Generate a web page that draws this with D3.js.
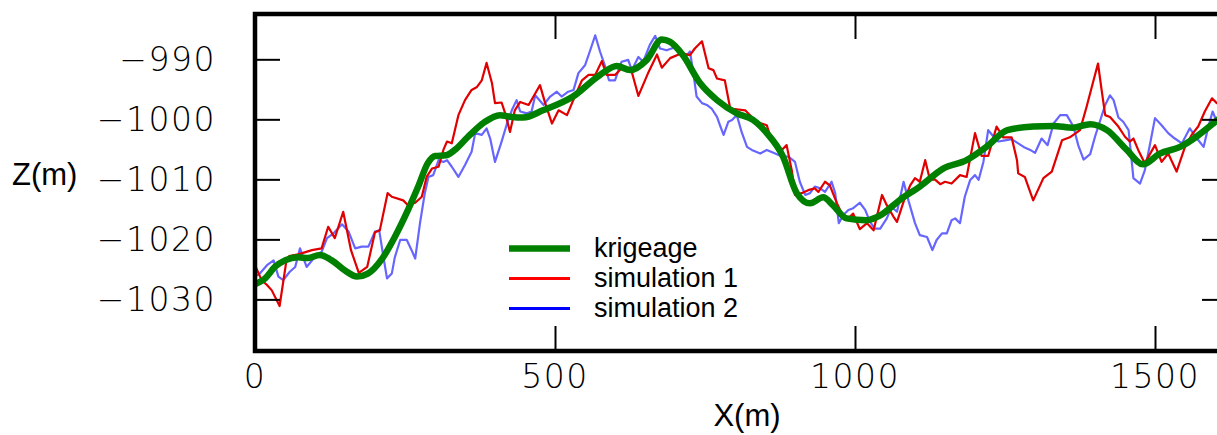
<!DOCTYPE html>
<html>
<head>
<meta charset="utf-8">
<script src="https://cdn.jsdelivr.net/npm/d3@7"></script>
<style>
  body { margin: 0; background: #fff; }
  svg { display: block; }
  .tick-label { font-family: "DejaVu Sans", sans-serif; font-weight: 200; font-size: 33px; letter-spacing: 1.5px; fill: #000; }
  .axis-title { font-family: "Liberation Sans", Arial, sans-serif; font-size: 31px; fill: #000; }
  .legend-text { font-family: "Liberation Sans", Arial, sans-serif; font-size: 27px; fill: #000; }
</style>
</head>
<body>
<script>
// profile data, X(m) and Z(m)
let krigeage = [[0,-1027.5],[17,-1026.5],[33,-1024.6],[50,-1023.5],[72,-1023.0],[88,-1023.1],[108,-1022.6],[128,-1023.5],
  [150,-1025.2],[170,-1026.2],[188,-1025.7],[212,-1023.2],[233,-1019.6],[255,-1015.1],[272,-1011.2],[288,-1007.3],
  [300,-1006.1],[318,-1006.0],[333,-1005.1],[355,-1002.9],[382,-1000.5],[408,-999.3],[428,-999.6],[447,-999.7],
  [480,-998.5],[530,-996.2],[575,-992.6],[603,-991.1],[625,-991.8],[653,-990.1],[678,-986.7],[692,-987.1],
  [713,-989.3],[742,-994.0],[770,-996.8],[803,-999.0],[830,-1000.1],[853,-1002.3],[880,-1006.2],[903,-1012.3],
  [925,-1014.0],[947,-1013.0],[963,-1014.3],[986,-1016.5],[1019,-1016.8],[1042,-1016.0],[1075,-1013.4],[1108,-1011.2],
  [1147,-1008.2],[1186,-1006.8],[1219,-1004.6],[1254,-1001.8],[1297,-1001.2],[1330,-1001.1],[1363,-1001.4],[1392,-1000.8],
  [1420,-1001.8],[1453,-1005.1],[1480,-1007.5],[1508,-1005.7],[1542,-1004.6],[1569,-1002.9],[1603,-1000.2],[1620,-998.8]];

let simulation1 = [[0,-1024.3],[11,-1026.8],[20,-1027.6],[28,-1028.5],[41,-1031.1],[52,-1023.8],[57,-1022.8],[72,-1022.5],
  [95,-1021.8],[111,-1021.5],[122,-1017.9],[133,-1019.8],[147,-1015.4],[160,-1021.8],[173,-1025.6],[187,-1024.6],
  [200,-1018.8],[208,-1018.5],[221,-1012.3],[228,-1012.9],[247,-1013.5],[255,-1014.3],[267,-1013.9],[278,-1012.9],
  [286,-1009.6],[295,-1008.2],[306,-1007.9],[314,-1005.1],[320,-1003.7],[328,-1004.0],[339,-999.3],[350,-996.8],
  [361,-995.1],[370,-994.6],[378,-993.5],[386,-990.6],[395,-994.0],[400,-997.3],[411,-997.2],[417,-999.0],
  [425,-1002.1],[433,-998.5],[442,-997.1],[456,-997.6],[467,-995.7],[475,-994.3],[483,-997.1],[495,-1000.7],
  [506,-998.5],[520,-999.3],[533,-996.2],[545,-993.5],[556,-992.6],[567,-992.6],[578,-990.3],[586,-992.6],
  [600,-992.6],[611,-991.5],[628,-992.1],[639,-996.1],[656,-992.1],[670,-989.2],[678,-991.4],[692,-989.8],
  [711,-989.0],[725,-989.3],[733,-988.2],[745,-987.0],[756,-991.5],[764,-991.8],[770,-993.2],[783,-993.5],
  [792,-998.2],[817,-998.5],[828,-999.6],[836,-1000.4],[853,-1001.0],[858,-1002.6],[867,-1003.7],[878,-1005.1],
  [886,-1004.3],[895,-1008.7],[900,-1012.6],[911,-1012.3],[922,-1011.8],[933,-1011.5],[939,-1012.1],[950,-1010.4],
  [958,-1011.0],[970,-1014.0],[978,-1015.7],[989,-1016.5],[997,-1015.7],[1008,-1018.3],[1020,-1017.3],[1031,-1018.5],
  [1045,-1012.6],[1053,-1014.3],[1064,-1016.2],[1070,-1017.1],[1081,-1013.7],[1092,-1011.0],[1100,-1009.8],[1108,-1010.4],
  [1117,-1006.8],[1125,-1010.1],[1133,-1010.0],[1142,-1010.8],[1150,-1010.4],[1161,-1010.7],[1175,-1009.3],[1186,-1009.6],
  [1200,-1002.3],[1211,-1006.1],[1222,-1006.1],[1236,-1001.2],[1247,-1003.0],[1261,-1003.0],[1270,-1006.8],[1272,-1009.0],
  [1283,-1009.6],[1297,-1013.5],[1314,-1009.8],[1328,-1008.7],[1345,-1003.5],[1358,-1003.0],[1375,-1001.8],[1386,-997.9],
  [1405,-990.7],[1411,-995.1],[1417,-999.3],[1425,-999.6],[1439,-1001.2],[1450,-1002.9],[1458,-1003.7],[1464,-1003.2],
  [1472,-1005.1],[1483,-1007.3],[1500,-1004.3],[1511,-1007.1],[1522,-1005.7],[1536,-1008.7],[1550,-1004.6],[1561,-1002.6],
  [1572,-1001.2],[1583,-998.7],[1595,-996.5],[1603,-997.3],[1622,-997.8]];

let simulation2 = [[0,-1026.2],[8,-1025.7],[20,-1024.3],[31,-1023.5],[39,-1026.2],[47,-1026.8],[58,-1025.4],[67,-1024.6],
  [75,-1021.5],[86,-1024.6],[100,-1022.9],[111,-1022.1],[120,-1019.8],[131,-1019.0],[145,-1017.5],[156,-1018.7],
  [167,-1021.5],[178,-1021.2],[189,-1021.2],[200,-1018.7],[207,-1018.5],[214,-1022.9],[220,-1026.5],[228,-1025.7],
  [233,-1023.0],[242,-1020.1],[253,-1020.1],[261,-1021.8],[267,-1023.2],[275,-1017.3],[283,-1012.3],[289,-1009.6],
  [297,-1009.3],[306,-1006.8],[314,-1007.1],[320,-1006.8],[328,-1007.9],[339,-1009.6],[350,-1007.6],[361,-1005.4],
  [367,-1002.3],[378,-1002.6],[386,-1001.5],[392,-1003.2],[400,-1007.1],[411,-1003.7],[420,-1000.7],[428,-998.5],
  [436,-996.8],[442,-998.7],[453,-999.0],[461,-998.7],[467,-996.0],[481,-997.6],[492,-996.2],[503,-995.4],
  [511,-996.2],[522,-995.4],[531,-995.1],[539,-992.3],[550,-991.0],[558,-988.7],[567,-986.0],[575,-988.7],
  [583,-991.0],[590,-993.5],[600,-993.5],[611,-990.4],[622,-990.1],[628,-991.8],[639,-989.6],[647,-990.4],
  [658,-987.6],[667,-986.1],[675,-988.2],[686,-988.5],[700,-988.0],[711,-989.0],[720,-989.3],[725,-988.7],
  [731,-992.6],[736,-996.2],[745,-997.3],[753,-997.6],[761,-998.2],[770,-999.6],[775,-1001.0],[781,-1002.6],
  [789,-1000.4],[795,-1000.1],[803,-999.3],[811,-1002.1],[820,-1004.6],[828,-1005.1],[842,-1005.7],[853,-1005.1],
  [867,-1005.7],[878,-1006.2],[889,-1006.2],[900,-1007.1],[908,-1010.4],[917,-1012.6],[925,-1012.3],[933,-1011.2],
  [942,-1011.5],[950,-1012.1],[961,-1010.4],[967,-1012.3],[973,-1017.3],[981,-1015.9],[989,-1015.1],[997,-1014.8],
  [1008,-1013.9],[1017,-1015.1],[1025,-1017.1],[1033,-1018.2],[1042,-1018.2],[1053,-1016.5],[1061,-1014.6],[1070,-1015.4],
  [1081,-1010.4],[1089,-1013.5],[1100,-1017.3],[1108,-1019.3],[1120,-1019.6],[1129,-1021.8],[1136,-1020.1],[1145,-1019.0],
  [1153,-1019.0],[1161,-1016.8],[1167,-1016.5],[1175,-1017.3],[1183,-1012.9],[1192,-1010.1],[1200,-1009.3],[1206,-1010.1],
  [1214,-1007.1],[1222,-1001.8],[1231,-1002.9],[1239,-1003.7],[1250,-1003.5],[1261,-1003.3],[1272,-1004.0],[1281,-1004.6],
  [1292,-1005.1],[1300,-1005.6],[1311,-1003.2],[1321,-1004.3],[1331,-1000.7],[1342,-999.3],[1353,-999.3],[1364,-1001.2],
  [1372,-1004.3],[1381,-1006.7],[1392,-1005.8],[1400,-1002.9],[1408,-1000.4],[1417,-997.6],[1425,-996.0],[1431,-996.8],
  [1439,-999.7],[1447,-1000.4],[1456,-1001.8],[1464,-1009.8],[1475,-1010.7],[1483,-1008.5],[1492,-1004.0],[1500,-999.8],
  [1511,-1001.0],[1522,-1002.3],[1533,-1003.2],[1545,-1004.0],[1558,-1001.5],[1570,-1003.2],[1581,-1004.6],[1589,-1001.2],
  [1596,-998.7],[1603,-1000.4],[1622,-999.8]];

let xTicks = [0, 500, 1000, 1500];
let zTicks = [-990, -1000, -1010, -1020, -1030];

let legendNames = ["krigeage", "simulation 1", "simulation 2"];

let width = 1217,
  height = 435;

// plot frame, right edge runs past the window like in the figure
let plotLeft = 255, plotRight = 1227, plotTop = 14, plotBottom = 351;

let svg = d3.select("body").append("svg")
  .attr("width", width)
  .attr("height", height);

let x = d3.scaleLinear().domain([0, 1620]).range([plotLeft, plotRight]);
let y = d3.scaleLinear().domain([-1038.6, -982.45]).range([plotBottom, plotTop]);

svg.append("clipPath")
  .attr("id", "plotclip")
  .append("rect")
  .attr("x", plotLeft).attr("y", plotTop)
  .attr("width", plotRight - plotLeft).attr("height", plotBottom - plotTop);

let line = d3.line()
  .x(function(d) { return x(d[0]); })
  .y(function(d) { return y(d[1]); });

let smooth = d3.line()
  .x(function(d) { return x(d[0]); })
  .y(function(d) { return y(d[1]); })
  .curve(d3.curveMonotoneX);

let plot = svg.append("g").attr("clip-path", "url(#plotclip)");

// blue under red, green on top
plot.append("path")
  .attr("d", line(simulation2))
  .attr("fill", "none")
  .attr("stroke", "#0000ff")
  .attr("stroke-opacity", 0.6)
  .attr("stroke-width", 2.2)
  .attr("stroke-linejoin", "round");

plot.append("path")
  .attr("d", line(simulation1))
  .attr("fill", "none")
  .attr("stroke", "#e00000")
  .attr("stroke-width", 2.2)
  .attr("stroke-linejoin", "round");

plot.append("path")
  .attr("d", smooth(krigeage))
  .attr("fill", "none")
  .attr("stroke", "#008000")
  .attr("stroke-width", 6.5)
  .attr("stroke-linejoin", "round");

// axes with inward ticks on all four sides
let tickLen = 25;
let axisLeft = d3.axisLeft(y).tickValues(zTicks).tickSize(-tickLen).tickFormat("");
let axisRight = d3.axisRight(y).tickValues(zTicks).tickSize(-tickLen).tickFormat("");
let axisBottom = d3.axisBottom(x).tickValues(xTicks).tickSize(-tickLen).tickFormat("");
let axisTop = d3.axisTop(x).tickValues(xTicks).tickSize(-tickLen).tickFormat("");

[[axisLeft, "translate(" + plotLeft + ",0)"], [axisRight, "translate(" + plotRight + ",0)"],
 [axisBottom, "translate(0," + plotBottom + ")"], [axisTop, "translate(0," + plotTop + ")"]].forEach(function(a) {
  let g = svg.append("g").attr("transform", a[1]).call(a[0]);
  g.select(".domain").remove();
  g.selectAll(".tick line").attr("stroke", "#000").attr("stroke-width", 2);
});

svg.append("rect")
  .attr("x", plotLeft).attr("y", plotTop)
  .attr("width", plotRight - plotLeft).attr("height", plotBottom - plotTop)
  .attr("fill", "none")
  .attr("stroke", "#000")
  .attr("stroke-width", 4.5);

// tick labels
svg.selectAll(".zlabel")
  .data(zTicks)
  .enter().append("text")
  .attr("class", "tick-label")
  .attr("x", 216)
  .attr("y", function(d) { return y(d); })
  .attr("dy", "0.36em")
  .attr("text-anchor", "end")
  .text(function(d) { return "\u2212" + Math.abs(d); });

svg.selectAll(".xlabel")
  .data(xTicks)
  .enter().append("text")
  .attr("class", "tick-label")
  .attr("x", function(d) { return x(d); })
  .attr("y", 388)
  .attr("text-anchor", "middle")
  .text(function(d) { return d; });

// axis titles
svg.append("text")
  .attr("class", "axis-title")
  .attr("x", 12)
  .attr("y", 185)
  .text("Z(m)");

svg.append("text")
  .attr("class", "axis-title")
  .attr("x", 747)
  .attr("y", 426)
  .attr("text-anchor", "middle")
  .text("X(m)");

// legend
let legendColor = ["#008000", "#ff0000", "#0000ff"];
let legendWidth = [6.5, 3, 3];
let legend = svg.selectAll(".legend")
  .data(legendNames)
  .enter().append("g")
  .attr("transform", function(d, i) { return "translate(0," + (248.5 + i * 30) + ")"; });

legend.append("line")
  .attr("x1", 509).attr("x2", 570)
  .attr("stroke", function(d, i) { return legendColor[i]; })
  .attr("stroke-width", function(d, i) { return legendWidth[i]; });

legend.append("text")
  .attr("class", "legend-text")
  .attr("x", 594)
  .attr("y", 8.5)
  .text(function(d) { return d; });
</script>
</body>
</html>
